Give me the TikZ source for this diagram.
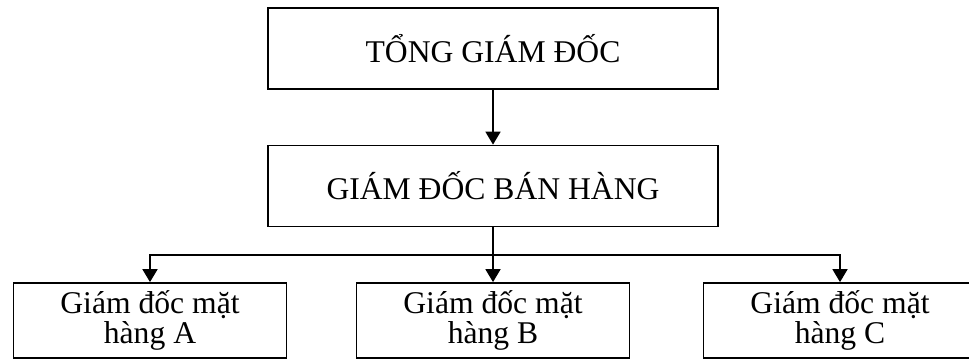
\documentclass[tikz,border=0pt]{standalone}
\usepackage{fontspec}
\setmainfont{Liberation Serif}
\usetikzlibrary{arrows.meta}

\tikzset{
  box/.style={draw, line width=1pt, inner sep=0pt, align=center,
              font=\fontsize{18}{17.5}\selectfont},
  bigbox/.style={box, minimum width=9cm, minimum height=1.62cm},
  smallbox/.style={box, minimum width=5.46cm, minimum height=1.5cm},
  link/.style={line width=1pt, -{Triangle[length=0.26cm,width=0.3cm]}}
}

\begin{document}
\begin{tikzpicture}
	\useasboundingbox (0, 0) rectangle (19.38, 7.24);
	\node[bigbox] (TGD) at (9.86, 6.27) {TỔNG GIÁM ĐỐC};
	\node[bigbox] (GDBH) at (9.86, 3.52) {GIÁM ĐỐC BÁN HÀNG};
	\node[smallbox] (MHA) at (3.0, 0.83) {Giám đốc mặt\\hàng A};
	\node[smallbox] (MHB) at (9.86, 0.83) {Giám đốc mặt\\hàng B};
	\node[smallbox] (MHC) at (16.8, 0.83) {Giám đốc mặt\\hàng C};
	\coordinate (BUS) at (9.86, 2.14);
	% top level down to sales, then split to the three product lines
	\draw [link] (TGD) -- (GDBH);
	\draw [line width=1pt] (GDBH) -- (BUS);
	\draw [link] (BUS) -| (MHA);
	\draw [link] (BUS) -- (MHB);
	\draw [link] (BUS) -| (MHC);
\end{tikzpicture}
\end{document}
